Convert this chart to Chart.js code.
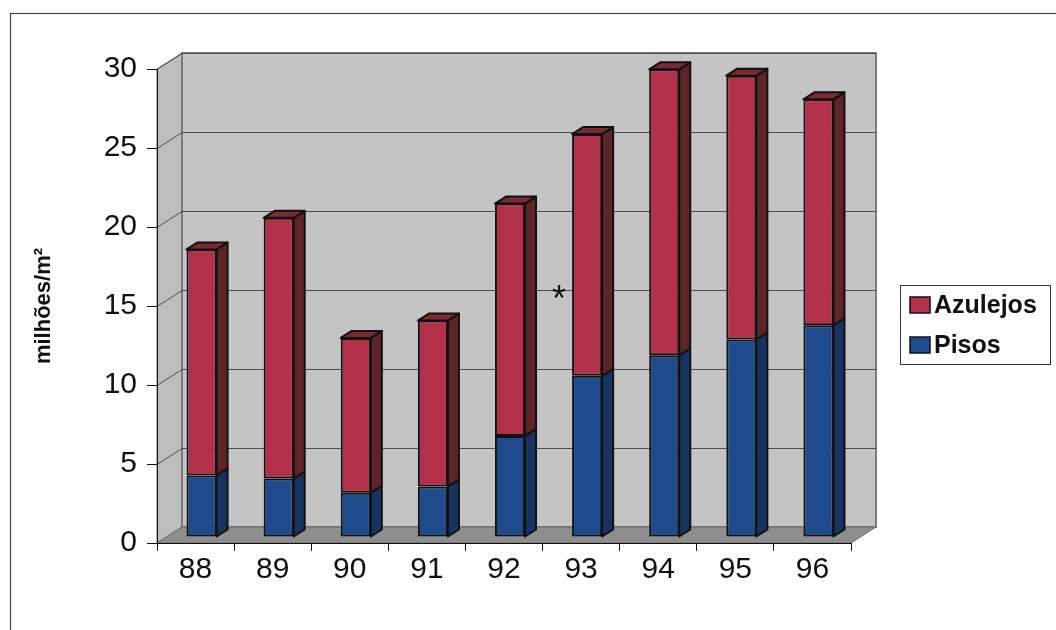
<!DOCTYPE html>
<html>
<head>
<meta charset="utf-8">
<script src="https://cdn.jsdelivr.net/npm/chart.js@4/dist/chart.umd.min.js"></script>
<style>
  html, body { margin: 0; padding: 0; background: #ffffff; }
  #wrap { width: 1056px; height: 630px; }
</style>
</head>
<body>
<div id="wrap"><canvas id="c" width="1056" height="630"></canvas></div>
<script>
// Production of floor and wall tiles, million m² per year
const categories = ['88', '89', '90', '91', '92', '93', '94', '95', '96'];
const pisos      = [3.9, 3.7, 2.8, 3.2, 6.4, 10.2, 11.5, 12.5, 13.4];
const azulejos   = [14.3, 16.5, 9.8, 10.5, 14.7, 15.3, 18.1, 16.7, 14.3];
const yTicks     = [0, 5, 10, 15, 20, 25, 30];
const noteMark   = '*';

const FONT = '"Liberation Sans", Arial, sans-serif';

// depth of the box (back wall offset) and of each column
const WALL = { dx: 25, dy: -16 };
const COL  = { dx: 11, dy: -7 };
const COL_SHIFT = { dx: 6, dy: -6 };

const shades = {
  Pisos:    { front: '#1f4a8c', side: '#173460', top: '#1a3b6e' },
  Azulejos: { front: '#b3304a', side: '#5e2527', top: '#7a2a33' }
};

function poly(ctx, pts, fill, stroke, lw) {
  ctx.beginPath();
  ctx.moveTo(pts[0][0], pts[0][1]);
  for (let i = 1; i < pts.length; i++) ctx.lineTo(pts[i][0], pts[i][1]);
  ctx.closePath();
  if (fill) { ctx.fillStyle = fill; ctx.fill(); }
  if (stroke) { ctx.strokeStyle = stroke; ctx.lineWidth = lw || 1; ctx.stroke(); }
}

const boxPlugin = {
  id: 'box3d',
  beforeDraw(chart) {
    const ctx = chart.ctx;
    const ca = chart.chartArea;
    const y = chart.scales.y;
    const xL = ca.left, xR = ca.right;
    const y0 = y.getPixelForValue(0), yT = y.getPixelForValue(30);
    const dx = WALL.dx, dy = WALL.dy;
    ctx.save();
    // outer frame
    ctx.strokeStyle = '#444';
    ctx.lineWidth = 1.2;
    ctx.strokeRect(10.5, 13.5, 1060, 640);
    // left wall
    poly(ctx, [[xL, yT], [xL + dx, yT + dy], [xL + dx, y0 + dy], [xL, y0]], '#bdbdbd', '#6e6e6e', 1);
    // back wall
    poly(ctx, [[xL + dx, yT + dy], [xR + dx, yT + dy], [xR + dx, y0 + dy], [xL + dx, y0 + dy]], '#c4c4c4', '#7a7a7a', 2);
    // floor
    poly(ctx, [[xL, y0], [xR, y0], [xR + dx, y0 + dy], [xL + dx, y0 + dy]], '#8e8e8e', '#6a6a6a', 1);
    // gridlines on back wall and left wall
    ctx.strokeStyle = '#4d4d4d';
    ctx.lineWidth = 1;
    yTicks.forEach(v => {
      if (v === 0) return;
      const py = Math.round(y.getPixelForValue(v)) + 0.5;
      ctx.beginPath();
      ctx.moveTo(xL, py);
      ctx.lineTo(xL + dx, py + dy);
      ctx.lineTo(xR + dx, py + dy);
      ctx.stroke();
    });
    ctx.restore();
  },
  beforeDatasetsDraw(chart) {
    chart.ctx.save();
    chart.ctx.translate(COL_SHIFT.dx, COL_SHIFT.dy);
  },
  afterDatasetsDraw(chart) {
    const ctx = chart.ctx;
    const n = chart.data.datasets.length;
    chart.data.datasets.forEach((ds, di) => {
      const meta = chart.getDatasetMeta(di);
      const sh = shades[ds.label];
      meta.data.forEach(bar => {
        const w = bar.width;
        const l = bar.x - w / 2, r = bar.x + w / 2;
        const t = Math.min(bar.y, bar.base), b = Math.max(bar.y, bar.base);
        ctx.lineJoin = 'round';
        poly(ctx, [[r, t], [r + COL.dx, t + COL.dy], [r + COL.dx, b + COL.dy], [r, b]], sh.side, '#111', 2);
        if (di === n - 1) {
          poly(ctx, [[l, t], [l + COL.dx, t + COL.dy], [r + COL.dx, t + COL.dy], [r, t]], sh.top, '#111', 2);
        }
      });
    });
    ctx.restore();
  },
  afterDraw(chart) {
    const ctx = chart.ctx;
    ctx.save();
    // note mark beside the 1993 column
    ctx.fillStyle = '#111';
    ctx.font = '36px ' + FONT;
    ctx.textAlign = 'center';
    ctx.textBaseline = 'alphabetic';
    ctx.fillText(noteMark, 559, 311);
    // legend
    ctx.strokeStyle = '#333';
    ctx.lineWidth = 1;
    ctx.strokeRect(900.5, 285.5, 150, 79);
    const items = chart.data.datasets.slice().reverse();
    ctx.font = 'bold 25px ' + FONT;
    ctx.textAlign = 'left';
    ctx.textBaseline = 'middle';
    items.forEach((ds, i) => {
      const cy = 305 + i * 40;
      ctx.fillStyle = ds.backgroundColor;
      ctx.fillRect(910, cy - 8, 20, 16);
      ctx.strokeStyle = '#111';
      ctx.lineWidth = 1.5;
      ctx.strokeRect(910, cy - 8, 20, 16);
      ctx.fillStyle = '#111';
      ctx.fillText(ds.label, 934, cy + 1);
    });
    ctx.restore();
  }
};

new Chart(document.getElementById('c'), {
  type: 'bar',
  data: {
    labels: categories,
    datasets: [
      { label: 'Pisos', data: pisos, backgroundColor: shades.Pisos.front },
      { label: 'Azulejos', data: azulejos, backgroundColor: shades.Azulejos.front }
    ]
  },
  options: {
    responsive: false,
    animation: false,
    devicePixelRatio: 1,
    layout: { padding: { left: 30, top: 69, right: 205, bottom: 37 } },
    datasets: {
      bar: {
        borderColor: '#111',
        borderWidth: 2,
        borderSkipped: false,
        barPercentage: 0.39,
        categoryPercentage: 1
      }
    },
    plugins: {
      legend: { display: false },
      tooltip: { enabled: false },
      title: { display: false }
    },
    scales: {
      x: {
        stacked: true,
        offset: true,
        grid: { display: true, drawOnChartArea: false, drawTicks: true, tickLength: 8, color: '#111', offset: true },
        border: { display: true, color: '#111', width: 1 },
        ticks: { font: { family: FONT, size: 30 }, color: '#111', padding: 1, maxRotation: 0 },
        afterFit(s) { s.height = 50; }
      },
      y: {
        stacked: true,
        min: 0,
        max: 30,
        afterBuildTicks(s) { s.ticks = yTicks.map(v => ({ value: v })); },
        grid: { display: true, drawOnChartArea: false, drawTicks: true, tickLength: 10, color: '#111' },
        border: { display: true, color: '#111', width: 1 },
        ticks: { font: { family: FONT, size: 30 }, color: '#111', padding: 10 },
        title: {
          display: true,
          text: 'milhões/m²',
          font: { family: FONT, size: 22, weight: 'bold' },
          color: '#111',
          padding: { top: 1, bottom: 0 }
        },
        afterFit(s) { s.width = 127; }
      }
    }
  },
  plugins: [boxPlugin]
});
</script>
</body>
</html>
